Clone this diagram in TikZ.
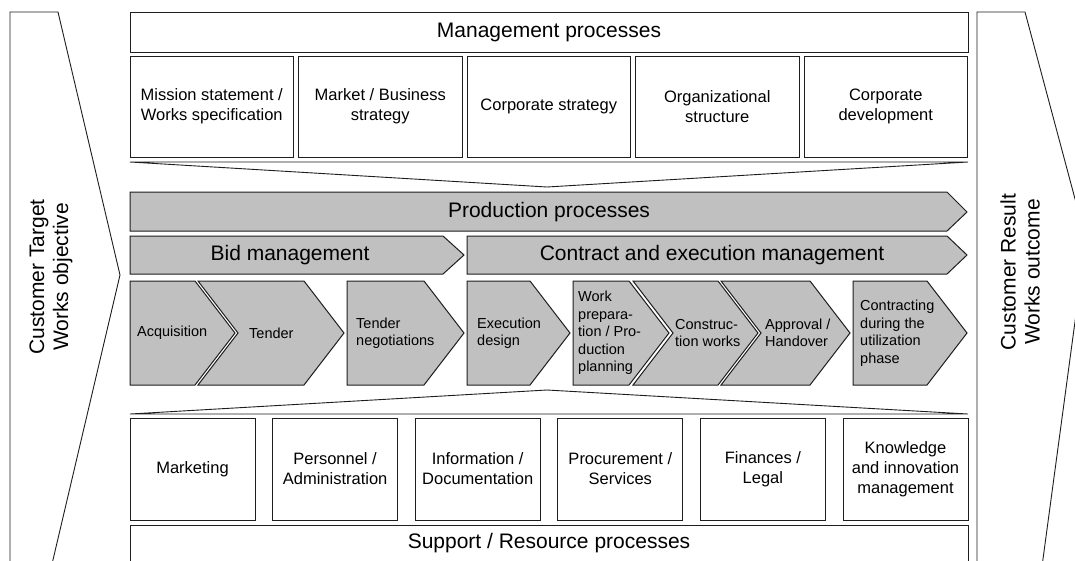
\documentclass[tikz,border=0pt]{standalone}
\usepackage{fontspec}
\setmainfont{Liberation Sans}
\definecolor{chevgray}{RGB}{192,192,192}
\definecolor{linec}{RGB}{30,30,30}
\tikzset{
  every path/.style={line join=miter},
  wbox/.style={draw=linec, line width=0.9pt, fill=white, inner sep=0pt, outer sep=0pt, anchor=north west},
  gshape/.style={draw=linec, line width=1pt, fill=chevgray},
  wshape/.style={draw=linec, line width=0.9pt, fill=white},
  bigtxt/.style={font=\fontsize{21}{24}\selectfont, inner sep=0pt, align=center},
  boxtxt/.style={font=\fontsize{16.5}{20}\selectfont, align=center, inner sep=0pt},
  chtxt/.style={font=\fontsize{14.5}{17.5}\selectfont, align=left, anchor=west, inner sep=0pt},
}
\begin{document}
\begin{tikzpicture}[x=1pt,y=-1pt]
\useasboundingbox (0,0) rectangle (1075,560);
\fill[white] (0,0) rectangle (1075,560);

% side arrows
\draw[wshape] (10,12) -- (58,12) -- (120,275) -- (50.6,570) -- (10,570) -- cycle;
\node[bigtxt, rotate=90] (custT) at (51,277) {Customer Target\\Works objective};
\draw[wshape] (977,12) -- (1025,12) -- (1086,240) -- (1041.5,570) -- (977,570) -- cycle;
\node[bigtxt, rotate=90] (custR) at (1020,272) {Customer Result\\Works outcome};

% management
\node[wbox, minimum width=838, minimum height=40] (mgmt) at (130,12) {};
\node[bigtxt] (mgmtT) at (mgmt.center) {Management processes};
\foreach \i/\t/\n in {0/{Mission statement /\\Works specification}/m1,
                    1/{Market / Business\\strategy}/m2,
                    2/{Corporate strategy}/m3,
                    3/{Organizational\\structure}/m4,
                    4/{Corporate\\development}/m5}{
  \node[wbox, minimum width=163.5, minimum height=101] (\n) at (130+168.5*\i,56) {};
  \node[boxtxt] at (\n.center) {\t};
}
\draw[wshape] (130,162) -- (968,162) -- (547,187) -- cycle;

% production
\draw[gshape] (130,192) -- (947,192) -- (967,212) -- (947,231) -- (130,231) -- cycle;
\node[bigtxt] (prod) at (549,212) {Production processes};
\draw[gshape] (130,236) -- (443,236) -- (464,255) -- (443,274) -- (130,274) -- cycle;
\node[bigtxt] (bid) at (290,255) {Bid management};
\draw[gshape] (467,236) -- (947,236) -- (967,255) -- (947,274) -- (467,274) -- cycle;
\node[bigtxt] (contr) at (712,255) {Contract and execution management};

% steps
\draw[gshape] (130,281) -- (195,281) -- (235,333) -- (195,385) -- (130,385) -- cycle;
\node[chtxt] (s1) at (137,333) {Acquisition};
\draw[gshape] (198,281) -- (304,281) -- (344,333) -- (304,385) -- (198,385) -- (238,333) -- cycle;
\node[chtxt] (s2) at (249,333) {Tender};
\draw[gshape] (347,281) -- (424,281) -- (464,333) -- (424,385) -- (347,385) -- cycle;
\node[chtxt] (s3) at (356,333) {Tender\\negotiations};
\draw[gshape] (467,281) -- (530,281) -- (570,333) -- (530,385) -- (467,385) -- cycle;
\node[chtxt] (s4) at (477,333) {Execution\\design};
\draw[gshape] (573,281) -- (629,281) -- (669,333) -- (629,385) -- (573,385) -- cycle;
\node[chtxt] (s5) at (578,333) {Work\\prepara-\\tion / Pro-\\duction\\planning};
\draw[gshape] (633,281) -- (718,281) -- (758,333) -- (718,385) -- (633,385) -- (673,333) -- cycle;
\node[chtxt] (s6) at (675,333) {Construc-\\tion works};
\draw[gshape] (721,281) -- (810,281) -- (850,333) -- (810,385) -- (721,385) -- (761,333) -- cycle;
\node[chtxt] (s7) at (765,333) {Approval /\\Handover};
\draw[gshape] (853,281) -- (927,281) -- (967,333) -- (927,385) -- (853,385) -- cycle;
\node[chtxt] (s8) at (860,333) {Contracting\\during the\\utilization\\phase};

% support
\draw[wshape] (130,414) -- (968,414) -- (547,390) -- cycle;
\foreach \i/\t/\n in {0/{Marketing}/b1,
                    1/{Personnel /\\Administration}/b2,
                    2/{Information /\\Documentation}/b3,
                    3/{Procurement /\\Services}/b4,
                    4/{Finances /\\Legal}/b5,
                    5/{Knowledge\\and innovation\\management}/b6}{
  \node[wbox, minimum width=125, minimum height=102] (\n) at (130+142.6*\i,418) {};
  \node[boxtxt] at (\n.center) {\t};
}
\node[wbox, minimum width=838, minimum height=40] (supp) at (130,525) {};
\node[bigtxt] (suppT) at (549,543) {Support / Resource processes};
\end{tikzpicture}
\end{document}
